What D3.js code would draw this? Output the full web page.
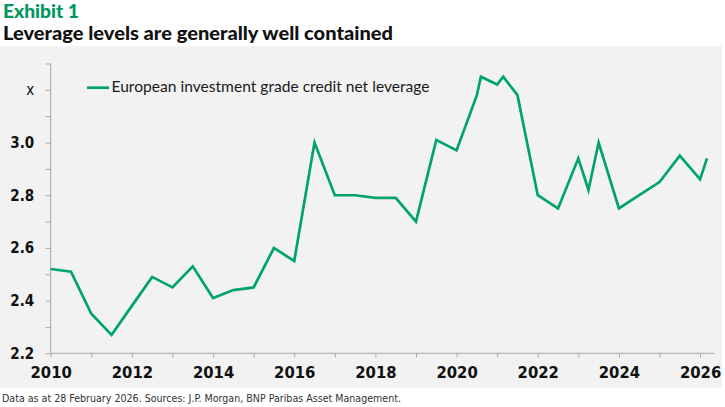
<!DOCTYPE html>
<html>
<head>
<meta charset="utf-8">
<script src="https://cdn.jsdelivr.net/npm/d3@7"></script>
<style>
  body { margin: 0; background: #fff; }
  svg { display: block; }
</style>
</head>
<body>
<div id="chart"></div>
<script>
// Data
const years = [2010.0, 2010.5, 2011.0, 2011.5, 2012.0, 2012.5, 2013.0, 2013.5, 2014.0, 2014.5,
  2015.0, 2015.5, 2016.0, 2016.5, 2017.0, 2017.5, 2018.0, 2018.5, 2019.0, 2019.5,
  2020.0, 2020.5, 2020.6, 2021.0, 2021.15, 2021.5, 2022.0, 2022.5, 2023.0, 2023.25,
  2023.5, 2024.0, 2024.5, 2025.0, 2025.5, 2026.0, 2026.17];
const leverage = [2.52, 2.51, 2.35, 2.27, 2.38, 2.49, 2.45, 2.53, 2.41, 2.44,
  2.45, 2.60, 2.55, 3.00, 2.80, 2.80, 2.79, 2.79, 2.70, 3.01,
  2.97, 3.18, 3.25, 3.22, 3.25, 3.18, 2.80, 2.75, 2.94, 2.82,
  3.00, 2.75, 2.80, 2.85, 2.95, 2.86, 2.94];

const xTicks = [2010, 2011, 2012, 2013, 2014, 2015, 2016, 2017, 2018, 2019, 2020, 2021, 2022, 2023, 2024, 2025, 2026];
const xLabels = [2010, 2012, 2014, 2016, 2018, 2020, 2022, 2024, 2026];
const yTicks = [2.2, 2.3, 2.4, 2.5, 2.6, 2.7, 2.8, 2.9, 3.0, 3.1, 3.2, 3.3];
const yLabels = { "2.2": "2.2", "2.4": "2.4", "2.6": "2.6", "2.8": "2.8", "3.0": "3.0", "3.2": "x" };

const seriesName = "European investment grade credit net leverage";
const exhibit = "Exhibit 1";
const title = "Leverage levels are generally well contained";
const footnote = "Data as at 28 February 2026. Sources: J.P. Morgan, BNP Paribas Asset Management.";

const data = years.map((y, i) => ({ year: y, value: leverage[i] }));

// Dimensions
const width = 725;
const height = 407;
const green = "#00a46a";
const axisColor = "#a6a6a6";

const svg = d3.select("#chart").append("svg")
  .attr("width", width)
  .attr("height", height);

// Grey panel
svg.append("rect")
  .attr("x", 0)
  .attr("y", 46)
  .attr("width", 722)
  .attr("height", 342)
  .attr("fill", "#f2f2f2");

// fit a text element to a target width
function fit(sel, w) {
  const len = sel.node().getComputedTextLength();
  if (len > 0) sel.attr("textLength", w).attr("lengthAdjust", "spacingAndGlyphs");
  return sel;
}

// Titles
fit(svg.append("text")
  .attr("x", 3)
  .attr("y", 17.5)
  .attr("font-family", "Lato, 'Open Sans', sans-serif")
  .attr("font-weight", 900)
  .attr("font-size", 18.5)
  .attr("fill", "#00965e")
  .text(exhibit), 76);

fit(svg.append("text")
  .attr("x", 3)
  .attr("y", 40)
  .attr("font-family", "Lato, 'Open Sans', sans-serif")
  .attr("font-weight", 900)
  .attr("font-size", 19)
  .attr("fill", "#111")
  .text(title), 390);

// Scales
const x = d3.scaleLinear()
  .domain([2010, 2026.35])
  .range([50.7, 714.3]);

const y = d3.scaleLinear()
  .domain([2.2, 3.3])
  .range([353.3, 63.5]);

// X axis
const xAxis = svg.append("g")
  .attr("transform", `translate(0, ${y(2.2)})`)
  .call(d3.axisBottom(x)
    .tickValues(xTicks)
    .tickSize(4)
    .tickPadding(9)
    .tickFormat(d => xLabels.includes(d) ? d : ""));

xAxis.select(".domain").attr("stroke", axisColor).attr("d", `M${x.range()[0]},0H${x.range()[1]}`);
xAxis.selectAll(".tick line").attr("stroke", axisColor);
xAxis.selectAll(".tick text")
  .attr("font-family", "'DejaVu Sans Condensed', 'Liberation Sans Narrow', sans-serif")
  .attr("font-size", 16.5)
  .attr("font-weight", 600)
  .attr("fill", "#111");

// Y axis
const yAxis = svg.append("g")
  .attr("transform", `translate(${x(2010)}, 0)`)
  .call(d3.axisLeft(y)
    .tickValues(yTicks)
    .tickSize(5)
    .tickPadding(11.5)
    .tickFormat(d => yLabels[d.toFixed(1)] || ""));

yAxis.select(".domain").attr("stroke", axisColor).attr("d", `M0,${y.range()[0]}V${y.range()[1]}`);
yAxis.selectAll(".tick line").attr("stroke", axisColor);
yAxis.selectAll(".tick text")
  .attr("font-family", "'DejaVu Sans Condensed', 'Liberation Sans Narrow', sans-serif")
  .attr("font-size", 15)
  .attr("font-weight", d => yLabels[d.toFixed(1)] === "x" ? 400 : 600)
  .attr("fill", "#111");

// Line
const line = d3.line()
  .x(d => x(d.year))
  .y(d => y(d.value));

svg.append("path")
  .datum(data)
  .attr("fill", "none")
  .attr("stroke", green)
  .attr("stroke-width", 2.7)
  .attr("stroke-linejoin", "miter")
  .attr("d", line);

// Legend
const legend = svg.append("g")
  .attr("transform", "translate(87, 87.7)");

legend.append("line")
  .attr("x1", 0)
  .attr("x2", 22)
  .attr("y1", 0)
  .attr("y2", 0)
  .attr("stroke", green)
  .attr("stroke-width", 2.7);

fit(legend.append("text")
  .attr("x", 24.5)
  .attr("y", 4.2)
  .attr("font-family", "Lato, 'Open Sans', sans-serif")
  .attr("font-size", 15)
  .attr("fill", "#1a1a1a")
  .text(seriesName), 318);

// Footnote
fit(svg.append("text")
  .attr("x", 2)
  .attr("y", 402.3)
  .attr("font-family", "'Liberation Sans Narrow', 'DejaVu Sans Condensed', sans-serif")
  .attr("font-size", 10.5)
  .attr("fill", "#333")
  .text(footnote), 399);
</script>
</body>
</html>
